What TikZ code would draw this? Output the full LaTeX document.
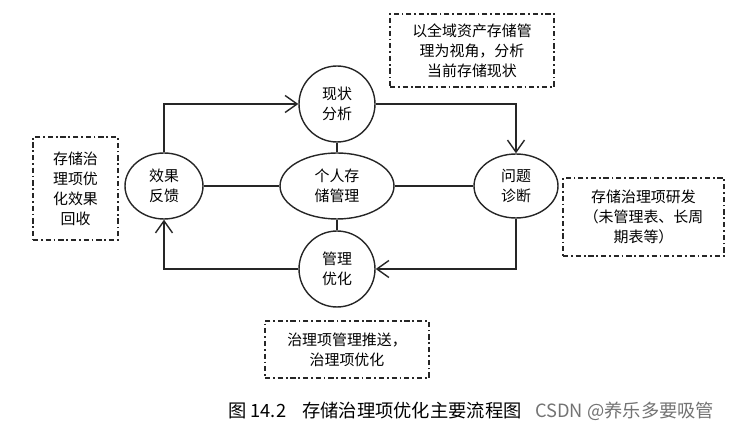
\documentclass[tikz,border=0pt]{standalone}
\usepackage{fontspec}
\setmainfont{Noto Sans CJK SC}
\usetikzlibrary{arrows.meta,shapes.geometric}

\begin{document}
\begin{tikzpicture}[x=0.02cm, y=-0.02cm, font=\fontsize{8.5}{11.4}\selectfont,
  circ/.style={draw=black!85, circle, line width=0.8pt, minimum size=15.2mm,
               inner sep=0pt, align=center},
  ell/.style={draw=black!85, ellipse, line width=0.8pt, inner sep=0pt, align=center},
  note/.style={draw=black!85, line width=0.65pt, inner sep=0pt, align=center,
               dash pattern=on 3pt off 1.6pt on 1pt off 1.6pt},
  arr/.style={-{Straight Barb[length=2.4mm, width=3.4mm]}, line width=0.8pt, black!85},
  link/.style={line width=0.8pt, black!85},
  captxt/.style={font=\fontsize{10.4}{12}\selectfont, anchor=west, inner sep=0pt}]
\useasboundingbox (0,0) rectangle (741,428);
% --- cycle of stages ---
\node[circ] (xz) at (337,104) {现状\\分析};
\node[ell, minimum width=22.8mm, minimum height=13.2mm] (gr) at (337,186) {个人存\\储管理};
\node[circ] (gl) at (337,269) {管理\\优化};
\node[ell, minimum width=15.6mm, minimum height=13.2mm] (xg) at (164,186) {效果\\反馈};
\node[ell, minimum width=16.8mm, minimum height=12.8mm] (wt) at (516,186) {问题\\诊断};
% --- notes ---
\node[note, minimum width=32.8mm, minimum height=14.6mm] (nTop) at (472,50.5)
  {以全域资产存储管\\理为视角，分析\\当前存储现状};
\node[note, minimum width=17mm, minimum height=20.6mm] (nLeft) at (75.5,188.5)
  {存储治\\理项优\\化效果\\回收};
\node[note, minimum width=32.2mm, minimum height=15.6mm] (nRight) at (643.5,217)
  {存储治理项研发\\（未管理表、长周\\期表等）};
\node[note, minimum width=32.8mm, minimum height=11.4mm] (nBot) at (347,349.5)
  {治理项管理推送，\\治理项优化};
% --- arrows ---
\draw[arr] (xg.north) |- (xz.west);
\draw[arr] (xz.east) -| (wt.north);
\draw[arr] (wt.south) |- (gl.east);
\draw[arr] (gl.west) -| (xg.south);
\draw[link] (xg) -- (gr);
\draw[link] (gr) -- (wt);
\draw[link] (xz) -- (gr);
\draw[link] (gr) -- (gl);
% --- caption ---
\node[captxt] (capNo) at (228,411) {图 14.2};
\node[captxt] (capTxt) at (302,411) {存储治理项优化主要流程图};
\node[captxt, text=black!55] (mark) at (535,411) {CSDN @养乐多要吸管};
\end{tikzpicture}
\end{document}
